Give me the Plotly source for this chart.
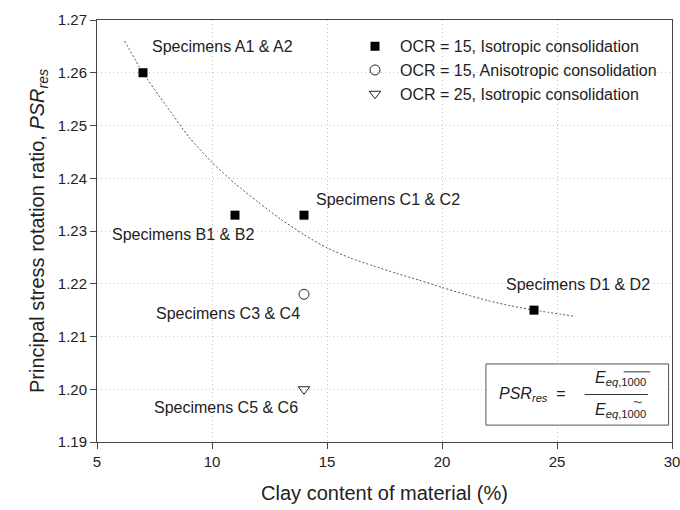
import plotly.graph_objects as go

# Data
iso15_x = [7, 11, 14, 24]
iso15_y = [1.260, 1.233, 1.233, 1.215]
aniso15_x = [14]
aniso15_y = [1.218]
iso25_x = [14]
iso25_y = [1.200]

fit_x = [6.2, 7, 8, 9, 10, 11, 12, 13, 14, 15, 16, 17, 18, 19, 20, 21, 22, 23, 24, 25.8]
fit_y = [1.2660, 1.2600, 1.2538, 1.2478, 1.2430, 1.2390, 1.2355, 1.2322, 1.2293, 1.2268,
         1.2249, 1.2234, 1.2220, 1.2207, 1.2193, 1.2180, 1.2168, 1.2158, 1.2150, 1.2138]

label_text = ["Specimens A1 &amp; A2", "Specimens B1 &amp; B2", "Specimens C1 &amp; C2",
              "Specimens C3 &amp; C4", "Specimens C5 &amp; C6", "Specimens D1 &amp; D2"]
label_x = [10.46, 8.74, 17.65, 10.7, 10.6, 25.9]
label_y = [1.2649, 1.2294, 1.2359, 1.2143, 1.1966, 1.2198]

FONT = "Liberation Sans, Arial, sans-serif"
TXT = "#222222"

fig = go.Figure()
fig.add_trace(go.Scatter(x=fit_x, y=fit_y, mode="lines", showlegend=False,
                         line=dict(color="#555555", width=1, dash="2px,2px", shape="spline",
                                   smoothing=0.6),
                         hoverinfo="skip"))
fig.add_trace(go.Scatter(x=iso15_x, y=iso15_y, mode="markers",
                         name="OCR = 15, Isotropic consolidation",
                         marker=dict(symbol="square", size=9, color="black")))
fig.add_trace(go.Scatter(x=aniso15_x, y=aniso15_y, mode="markers",
                         name="OCR = 15, Anisotropic consolidation",
                         marker=dict(symbol="circle-open", size=10, color="#222222",
                                     line=dict(width=1))))
fig.add_trace(go.Scatter(x=iso25_x, y=iso25_y, mode="markers",
                         name="OCR = 25, Isotropic consolidation",
                         marker=dict(symbol="triangle-down-open", size=10, color="#222222",
                                     line=dict(width=1))))

for t, x, y in zip(label_text, label_x, label_y):
    fig.add_annotation(x=x, y=y, text=t, showarrow=False,
                       font=dict(family=FONT, size=16, color=TXT))

# formula box
fig.add_shape(type="rect", x0=21.91, x1=29.85, y0=1.1932, y1=1.2048,
              line=dict(color="#555555", width=1), fillcolor="white", layer="above")
fig.add_annotation(x=23.95, y=1.1990, showarrow=False,
                   text="<i>PSR</i><sub><i>res</i></sub>  =",
                   font=dict(family=FONT, size=16, color=TXT))
fig.add_shape(type="line", x0=26.2, x1=28.95, y0=1.1990, y1=1.1990,
              line=dict(color="#333333", width=1), layer="above")
fig.add_annotation(x=27.75, y=1.2021, showarrow=False,
                   text="<i>E</i><sub><i>eq</i>,1000</sub>",
                   font=dict(family=FONT, size=16, color=TXT))
fig.add_shape(type="line", x0=27.9, x1=29.05, y0=1.2033, y1=1.2033,
              line=dict(color="#333333", width=1), layer="above")
fig.add_annotation(x=27.75, y=1.1960, showarrow=False,
                   text="<i>E</i><sub><i>eq</i>,1000</sub>",
                   font=dict(family=FONT, size=16, color=TXT))
fig.add_annotation(x=28.5, y=1.1974, showarrow=False, text="~",
                   font=dict(family=FONT, size=16, color="#555555"))

fig.update_layout(
    width=680, height=510,
    margin=dict(l=97, r=8, t=20, b=68, autoexpand=False),
    plot_bgcolor="white", paper_bgcolor="white",
    font=dict(family=FONT, size=15, color=TXT),
    legend=dict(x=0.44, y=0.978, xanchor="left", yanchor="top",
                bgcolor="rgba(0,0,0,0)", font=dict(family=FONT, size=16, color=TXT),
                itemwidth=40, tracegroupgap=0),
    xaxis=dict(range=[5, 30], dtick=5, tick0=5, showline=True, mirror=True,
               automargin=False, ticklabeloverflow="allow",
               linecolor="#444444", linewidth=1, ticks="outside", ticklen=6,
               tickcolor="#444444", showgrid=True, gridcolor="#c4c4c4",
               griddash="1px,3px", gridwidth=1, zeroline=False,
               tickfont=dict(size=15),
               title=dict(text="Clay content of material (%)", standoff=16,
                          font=dict(size=20))),
    yaxis=dict(range=[1.19, 1.27], dtick=0.01, tick0=1.19, tickformat=".2f",
               showline=True, mirror=True, automargin=False, ticklabeloverflow="allow",
               linecolor="#444444", linewidth=1, ticks="outside", ticklen=6,
               tickcolor="#444444", showgrid=True, gridcolor="#c4c4c4",
               griddash="1px,3px", gridwidth=1, zeroline=False,
               tickfont=dict(size=15),
               title=dict(text="Principal stress rotation ratio, <i>PSR</i><sub><i>res</i></sub>",
                          standoff=7, font=dict(size=20))),
)

fig.write_html("out.html")
